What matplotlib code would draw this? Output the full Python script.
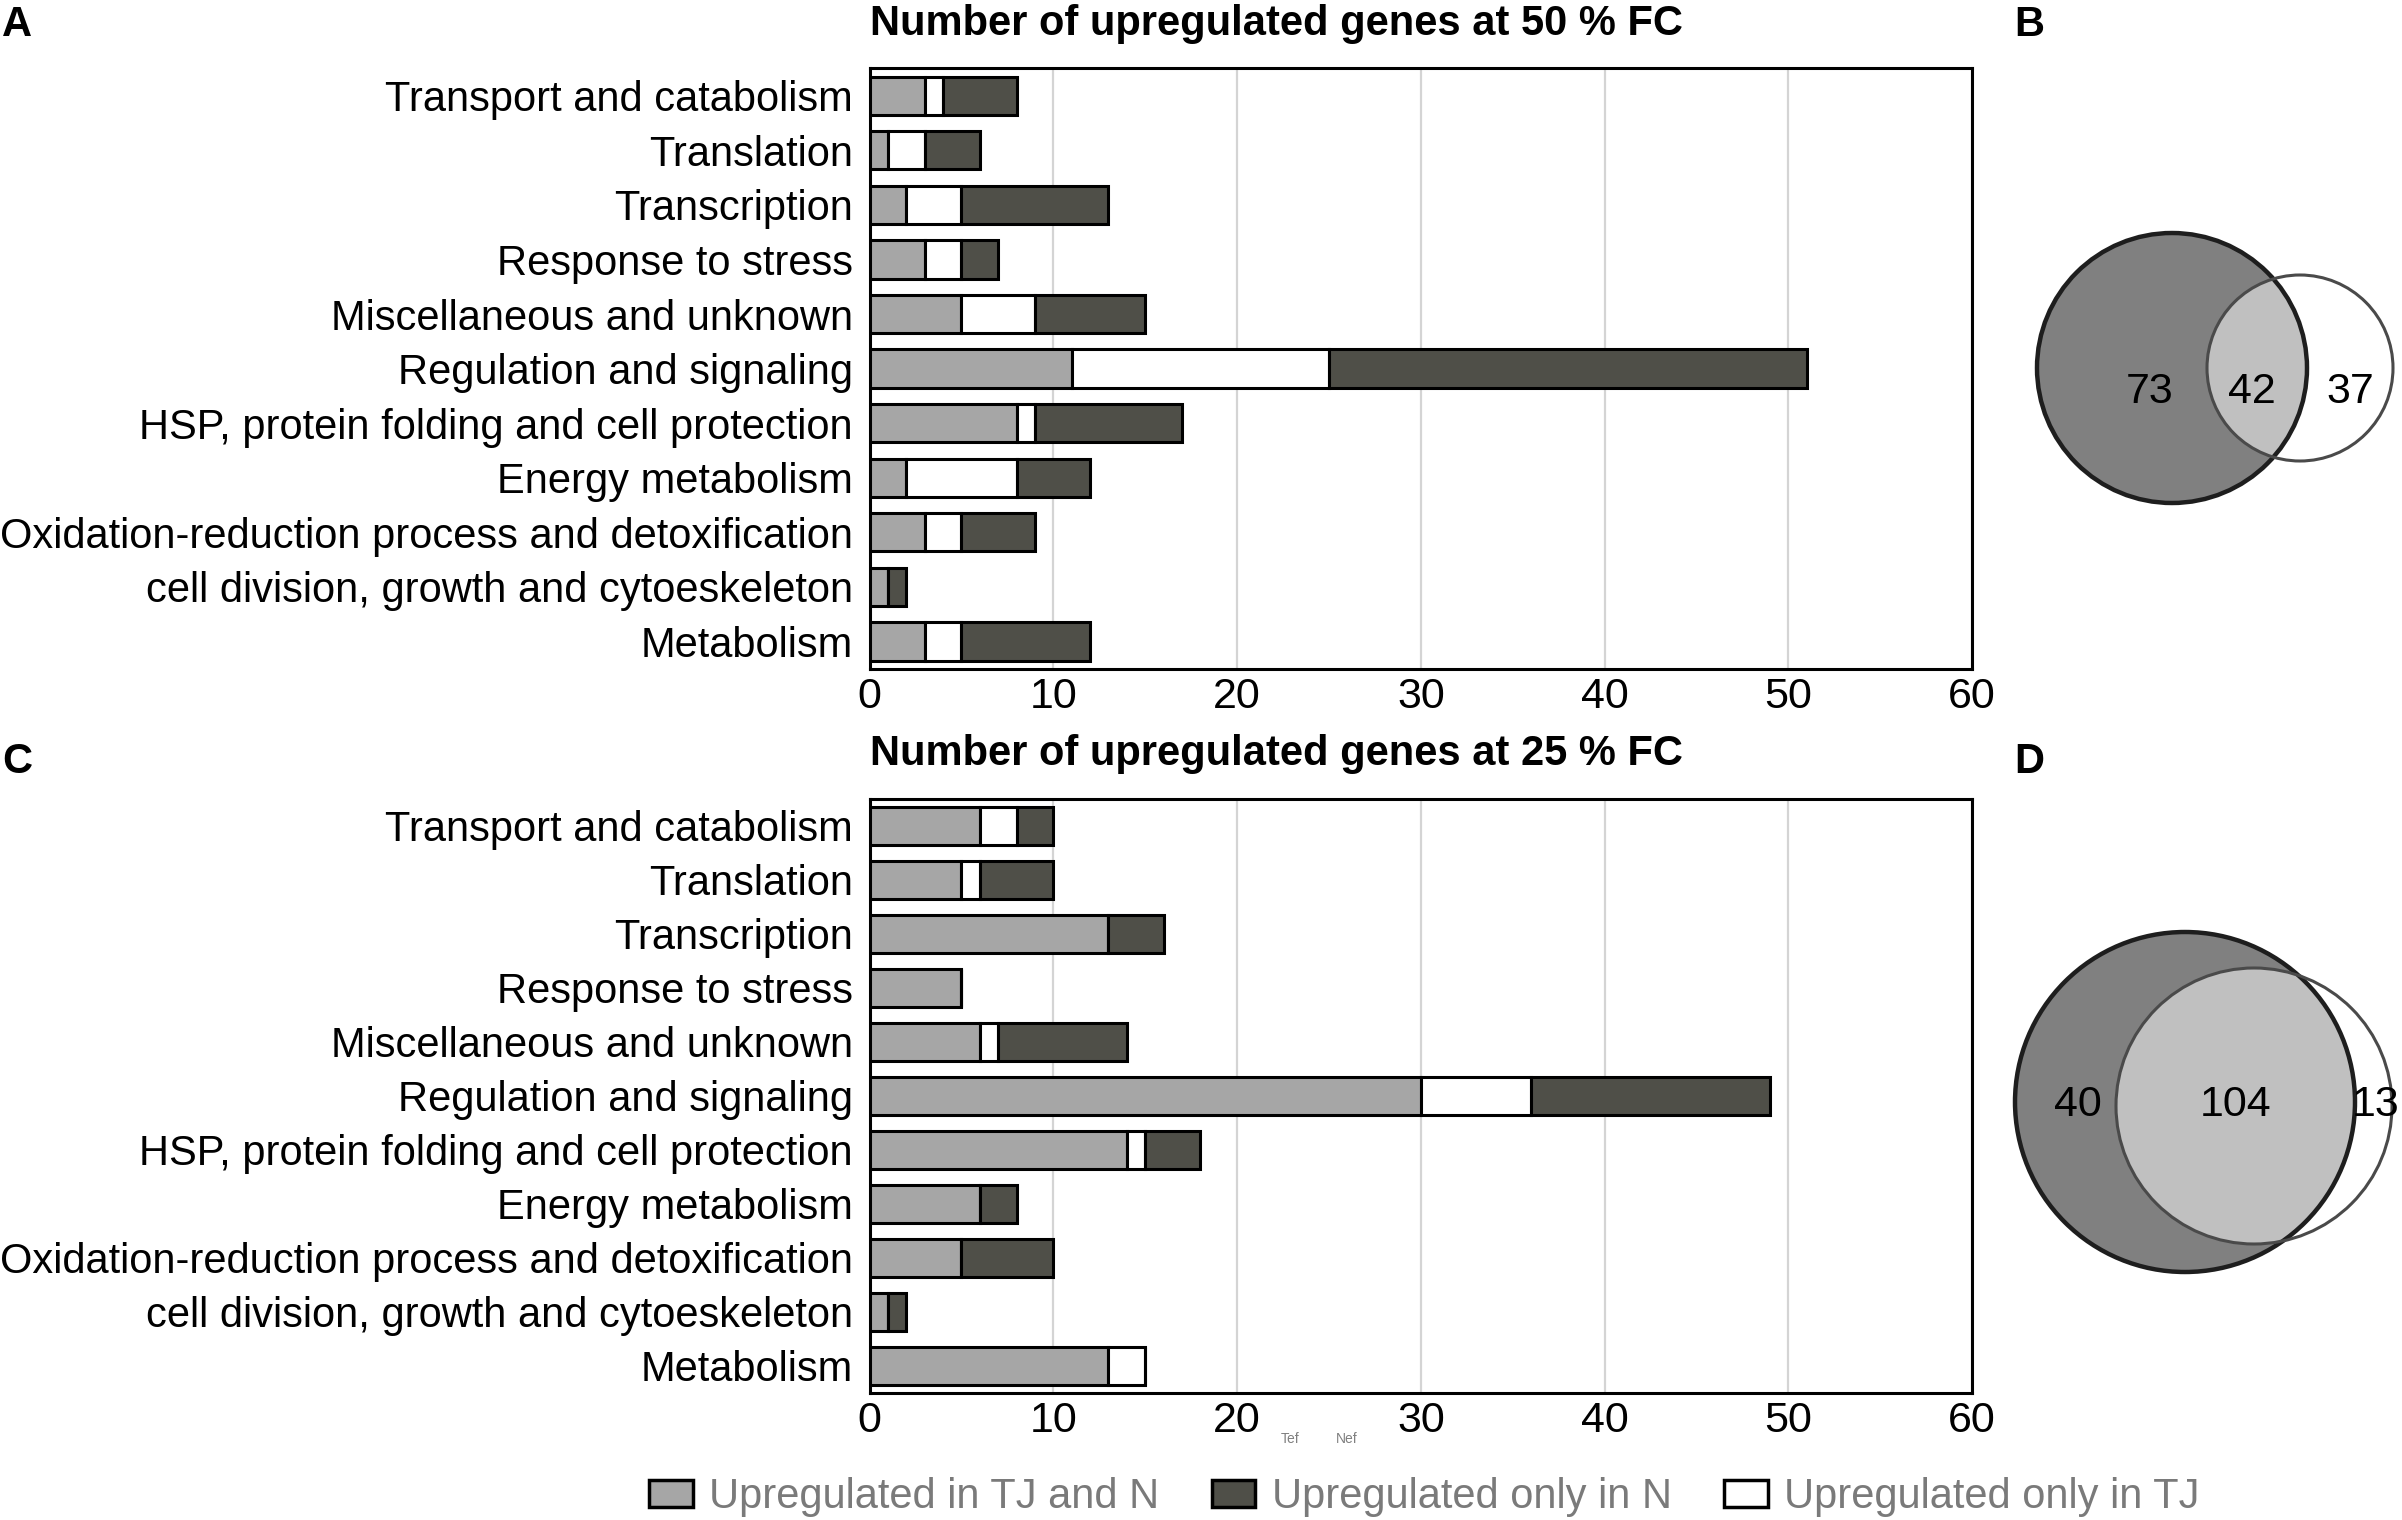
import numpy as np
import matplotlib.pyplot as plt
from matplotlib.patches import Circle, Patch

categories = ["Transport and catabolism", "Translation", "Transcription",
              "Response to stress", "Miscellaneous and unknown",
              "Regulation and signaling",
              "HSP, protein folding and cell protection", "Energy metabolism",
              "Oxidation-reduction process and detoxification",
              "cell division, growth and cytoeskeleton", "Metabolism"]

# 50 % FC
both_50 = [3, 1, 2, 3, 5, 11, 8, 2, 3, 1, 3]
tj_50 = [1, 2, 3, 2, 4, 14, 1, 6, 2, 0, 2]
n_50 = [4, 3, 8, 2, 6, 26, 8, 4, 4, 1, 7]

# 25 % FC
both_25 = [6, 5, 13, 5, 6, 30, 14, 6, 5, 1, 13]
tj_25 = [2, 1, 0, 0, 1, 6, 1, 0, 0, 0, 2]
n_25 = [2, 4, 3, 0, 7, 13, 3, 2, 5, 1, 0]

# venn counts: only N, both, only TJ
venn_50 = [73, 42, 37]
venn_25 = [40, 104, 13]

xticks = [0, 10, 20, 30, 40, 50, 60]
legend_labels = ["Upregulated in TJ and N", "Upregulated only in N",
                 "Upregulated only in TJ"]

c_both = '#a6a6a6'
c_n = '#4f4f48'
c_tj = '#ffffff'

plt.rcParams['font.family'] = ['Liberation Sans', 'DejaVu Sans']

fig = plt.figure(figsize=(24.02, 15.2), dpi=100)


def bar_panel(ax, both, tj, n, title):
    y = np.arange(len(categories))
    both = np.array(both)
    tj = np.array(tj)
    n = np.array(n)
    ax.barh(y, both, height=0.7, color=c_both, edgecolor='black', linewidth=2.2, zorder=3)
    ax.barh(y, tj, left=both, height=0.7, color=c_tj, edgecolor='black', linewidth=2.2, zorder=3)
    ax.barh(y, n, left=both + tj, height=0.7, color=c_n, edgecolor='black', linewidth=2.2, zorder=3)
    ax.set_xlim(0, 60)
    ax.set_ylim(len(categories) - 0.5, -0.5)
    ax.set_yticks(y)
    ax.set_yticklabels(categories, fontsize=30)
    ax.set_xticks(xticks)
    ax.set_xticklabels([str(t) for t in xticks], fontsize=31)
    ax.tick_params(axis='both', length=0)
    ax.tick_params(axis='y', pad=12)
    ax.tick_params(axis='x', pad=6)
    ax.xaxis.grid(True, color='#d4d4d4', linewidth=1.6, zorder=0)
    ax.set_axisbelow(True)
    for s in ax.spines.values():
        s.set_linewidth(2.2)
    ax.set_title(title, loc='left', fontsize=30, fontweight='bold', pad=24)


ax_a = fig.add_axes([0.362, 0.560, 0.459, 0.395])
bar_panel(ax_a, both_50, tj_50, n_50, "Number of upregulated genes at 50 % FC")

ax_c = fig.add_axes([0.362, 0.0836, 0.459, 0.391])
bar_panel(ax_c, both_25, tj_25, n_25, "Number of upregulated genes at 25 % FC")

# overlay in pixel units for venns and panel letters
ov = fig.add_axes([0, 0, 1, 1])
ov.set_xlim(0, 2402)
ov.set_ylim(1520, 0)
ov.axis('off')


def venn(ax, counts, big, small, txt_x, txt_y):
    sm_fill = Circle(small[:2], small[2], facecolor='white', edgecolor='none', zorder=1)
    ax.add_patch(sm_fill)
    bg_fill = Circle(big[:2], big[2], facecolor='#808080', edgecolor='none', zorder=2)
    ax.add_patch(bg_fill)
    inter = Circle(small[:2], small[2], facecolor='#c0c0c0', edgecolor='none', zorder=3)
    ax.add_patch(inter)
    inter.set_clip_path(bg_fill)
    ax.add_patch(Circle(big[:2], big[2], facecolor='none', edgecolor='#1e1e1e',
                        linewidth=3.2, zorder=4))
    ax.add_patch(Circle(small[:2], small[2], facecolor='none', edgecolor='#4a4a4a',
                        linewidth=2.2, zorder=5))
    for v, x in zip(counts, txt_x):
        ax.text(x, txt_y, str(v), fontsize=31, ha='center', va='center', zorder=6)


venn(ov, venn_50, (2172, 368, 135), (2300, 368, 93), [2150, 2252, 2350], 392)
venn(ov, venn_25, (2185, 1102, 170), (2254, 1106, 138), [2078, 2236, 2376], 1105)

for letter, x, y in [('A', 2, 36), ('B', 2014, 36), ('C', 2, 773), ('D', 2014, 773)]:
    ov.text(x, y, letter, fontsize=30, fontweight='bold', ha='left', va='baseline')

ov.text(1290, 1439, 'Tef', fontsize=10, color='#808080', ha='center', va='center')
ov.text(1347, 1439, 'Nef', fontsize=10, color='#808080', ha='center', va='center')

handles = [Patch(facecolor=c, edgecolor='black', linewidth=2.5) for c in (c_both, c_n, c_tj)]
fig.legend(handles, legend_labels, loc='center', bbox_to_anchor=(0.593, 0.015),
           ncol=3, frameon=False, fontsize=30, labelcolor='#7a7a7a',
           handlelength=1.05, handleheight=0.65, handletextpad=0.4,
           columnspacing=1.25, borderaxespad=0)

fig.savefig('out.png', dpi=100)
